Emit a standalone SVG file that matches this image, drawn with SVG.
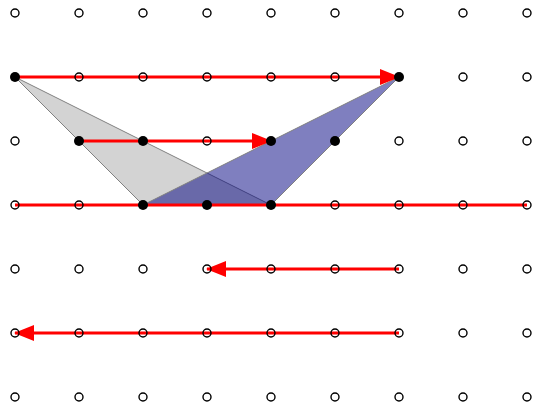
<svg xmlns="http://www.w3.org/2000/svg" width="533" height="403" viewBox="0 0 533 403">
<style>
.e{fill:none;stroke:#000;stroke-width:1.4}
.f{fill:#000}
.ar{stroke:#ff0000;stroke-width:3;fill:none}
</style>
<defs>
<marker id="ah" markerUnits="userSpaceOnUse" markerWidth="20" markerHeight="16" refX="19" refY="8" orient="auto">
<path d="M0,0 L20,8 L0,16 Z" fill="#ff0000"/>
</marker>
</defs>
<rect width="533" height="403" fill="#fff"/>
<g id="shapes">
<polygon id="tri-gray" points="15,77 143,205 271,205" fill="#d3d3d3" stroke="#808080" stroke-width="1"/>
<polygon id="tri-blue" points="143,205 399,77 271,205" fill="#000080" fill-opacity="0.5" stroke="#808080" stroke-width="1"/>
</g>
<g id="connectors">
<line class="ar" x1="15" y1="77" x2="399" y2="77" marker-end="url(#ah)"/>
<line class="ar" x1="79" y1="141" x2="271" y2="141" marker-end="url(#ah)"/>
<line class="ar" x1="15" y1="205" x2="527" y2="205"/>
<line class="ar" x1="399" y1="269" x2="207" y2="269" marker-end="url(#ah)"/>
<line class="ar" x1="399" y1="333" x2="15" y2="333" marker-end="url(#ah)"/>
</g>
<g id="grid">
<circle class="e" cx="15" cy="13" r="4"/><circle class="e" cx="79" cy="13" r="4"/><circle class="e" cx="143" cy="13" r="4"/><circle class="e" cx="207" cy="13" r="4"/><circle class="e" cx="271" cy="13" r="4"/><circle class="e" cx="335" cy="13" r="4"/><circle class="e" cx="399" cy="13" r="4"/><circle class="e" cx="463" cy="13" r="4"/><circle class="e" cx="527" cy="13" r="4"/>
<circle class="f" cx="15" cy="77" r="5"/><circle class="e" cx="79" cy="77" r="4"/><circle class="e" cx="143" cy="77" r="4"/><circle class="e" cx="207" cy="77" r="4"/><circle class="e" cx="271" cy="77" r="4"/><circle class="e" cx="335" cy="77" r="4"/><circle class="f" cx="399" cy="77" r="5"/><circle class="e" cx="463" cy="77" r="4"/><circle class="e" cx="527" cy="77" r="4"/>
<circle class="e" cx="15" cy="141" r="4"/><circle class="f" cx="79" cy="141" r="5"/><circle class="f" cx="143" cy="141" r="5"/><circle class="e" cx="207" cy="141" r="4"/><circle class="f" cx="271" cy="141" r="5"/><circle class="f" cx="335" cy="141" r="5"/><circle class="e" cx="399" cy="141" r="4"/><circle class="e" cx="463" cy="141" r="4"/><circle class="e" cx="527" cy="141" r="4"/>
<circle class="e" cx="15" cy="205" r="4"/><circle class="e" cx="79" cy="205" r="4"/><circle class="f" cx="143" cy="205" r="5"/><circle class="f" cx="207" cy="205" r="5"/><circle class="f" cx="271" cy="205" r="5"/><circle class="e" cx="335" cy="205" r="4"/><circle class="e" cx="399" cy="205" r="4"/><circle class="e" cx="463" cy="205" r="4"/><circle class="e" cx="527" cy="205" r="4"/>
<circle class="e" cx="15" cy="269" r="4"/><circle class="e" cx="79" cy="269" r="4"/><circle class="e" cx="143" cy="269" r="4"/><circle class="e" cx="207" cy="269" r="4"/><circle class="e" cx="271" cy="269" r="4"/><circle class="e" cx="335" cy="269" r="4"/><circle class="e" cx="399" cy="269" r="4"/><circle class="e" cx="463" cy="269" r="4"/><circle class="e" cx="527" cy="269" r="4"/>
<circle class="e" cx="15" cy="333" r="4"/><circle class="e" cx="79" cy="333" r="4"/><circle class="e" cx="143" cy="333" r="4"/><circle class="e" cx="207" cy="333" r="4"/><circle class="e" cx="271" cy="333" r="4"/><circle class="e" cx="335" cy="333" r="4"/><circle class="e" cx="399" cy="333" r="4"/><circle class="e" cx="463" cy="333" r="4"/><circle class="e" cx="527" cy="333" r="4"/>
<circle class="e" cx="15" cy="397" r="4"/><circle class="e" cx="79" cy="397" r="4"/><circle class="e" cx="143" cy="397" r="4"/><circle class="e" cx="207" cy="397" r="4"/><circle class="e" cx="271" cy="397" r="4"/><circle class="e" cx="335" cy="397" r="4"/><circle class="e" cx="399" cy="397" r="4"/><circle class="e" cx="463" cy="397" r="4"/><circle class="e" cx="527" cy="397" r="4"/>
</g>
</svg>
